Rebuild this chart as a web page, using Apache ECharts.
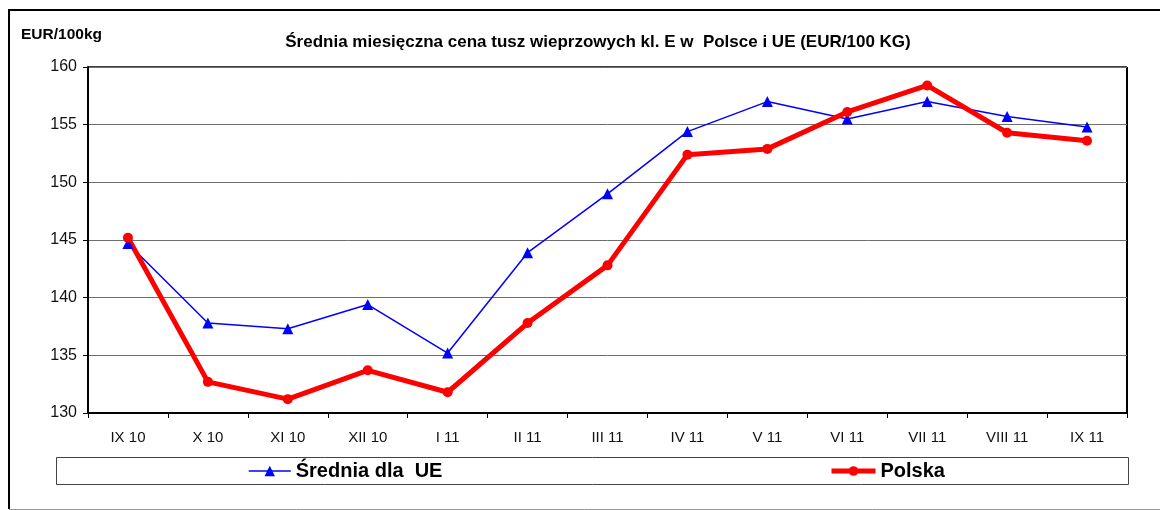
<!DOCTYPE html>
<html>
<head>
<meta charset="utf-8">
<script src="https://cdn.jsdelivr.net/npm/echarts@6/dist/echarts.min.js"></script>
<style>
  html, body { margin: 0; padding: 0; background: #fff; }
  #main { width: 1160px; height: 510px; }
</style>
</head>
<body>
<div id="main"></div>
<script>
// miesiące IX 2010 - IX 2011
const months = ['IX 10', 'X 10', 'XI 10', 'XII 10', 'I 11', 'II 11', 'III 11', 'IV 11', 'V 11', 'VI 11', 'VII 11', 'VIII 11', 'IX 11'];
const sredniaUE = [144.7, 137.8, 137.3, 139.4, 135.2, 143.9, 149.0, 154.4, 157.0, 155.5, 157.0, 155.7, 154.8];
const polska = [145.2, 132.7, 131.2, 133.7, 131.8, 137.8, 142.8, 152.4, 152.9, 156.1, 158.4, 154.3, 153.6];

const font = "'Liberation Sans', Arial, sans-serif";

const chart = echarts.init(document.getElementById('main'), null, { renderer: 'canvas' });

const option = {
  backgroundColor: '#fff',
  animation: false,
  title: {
    text: 'Średnia miesięczna cena tusz wieprzowych kl. E w  Polsce i UE (EUR/100 KG)',
    left: 598,
    textAlign: 'center',
    top: 34,
    padding: 0,
    textStyle: { fontFamily: font, fontSize: 17, fontWeight: 'bold', color: '#000' }
  },
  legend: [
    {
      data: ['Średnia dla  UE'],
      left: 248,
      top: 461,
      padding: 0,
      itemWidth: 42,
      itemHeight: 13,
      lineStyle: { width: 1.5 },
      textStyle: { fontFamily: font, fontSize: 20, fontWeight: 'bold', color: '#000' }
    },
    {
      data: ['Polska'],
      left: 829,
      top: 461,
      padding: 0,
      itemWidth: 44,
      itemHeight: 12,
      lineStyle: { width: 5 },
      textStyle: { fontFamily: font, fontSize: 20, fontWeight: 'bold', color: '#000' }
    }
  ],
  grid: { left: 88, right: 33, top: 67, bottom: 97 },
  xAxis: {
    type: 'category',
    data: months,
    boundaryGap: true,
    axisLine: { lineStyle: { color: '#000', width: 2 } },
    axisTick: { show: true, length: 5, lineStyle: { color: '#000' } },
    axisLabel: { fontFamily: font, fontSize: 15, color: '#111', margin: 17 }
  },
  yAxis: {
    type: 'value',
    name: 'EUR/100kg',
    nameLocation: 'end',
    nameGap: 24,
    nameTextStyle: { fontFamily: font, fontSize: 15.5, fontWeight: 'bold', color: '#000', align: 'left', padding: [0, 0, 0, -67] },
    min: 130,
    max: 160,
    interval: 5,
    axisLine: { show: true, lineStyle: { color: '#000', width: 2 } },
    axisTick: { show: true, length: 5, lineStyle: { color: '#000' } },
    axisLabel: { fontFamily: font, fontSize: 16, color: '#111', margin: 11 },
    splitLine: { show: true, lineStyle: { color: '#6e6e6e', width: 1 } }
  },
  series: [
    {
      name: 'Średnia dla  UE',
      type: 'line',
      data: sredniaUE,
      symbol: 'triangle',
      symbolSize: 11,
      color: '#0000ff',
      lineStyle: { color: '#0000ff', width: 1.5 },
      itemStyle: { color: '#0000ff' }
    },
    {
      name: 'Polska',
      type: 'line',
      data: polska,
      symbol: 'circle',
      symbolSize: 10,
      color: '#ff0000',
      lineStyle: { color: '#ff0000', width: 5 },
      itemStyle: { color: '#ff0000' }
    }
  ],
  graphic: [
    // ramka wykresu
    { type: 'line', shape: { x1: 9, y1: 10, x2: 1160, y2: 10 }, style: { stroke: '#000', lineWidth: 2 } },
    { type: 'line', shape: { x1: 9, y1: 9, x2: 9, y2: 509 }, style: { stroke: '#000', lineWidth: 2 } },
    { type: 'line', shape: { x1: 9, y1: 509.5, x2: 1160, y2: 509.5 }, style: { stroke: '#999', lineWidth: 1 } },
    // ramka legendy
    { type: 'rect', shape: { x: 56.5, y: 457.5, width: 1072, height: 27 }, style: { fill: 'none', stroke: '#444', lineWidth: 1 }, z: -1 },
    // prawa i górna krawędź obszaru wykresu
    { type: 'line', shape: { x1: 1127, y1: 67, x2: 1127, y2: 413 }, style: { stroke: '#000', lineWidth: 2 } },
    { type: 'line', shape: { x1: 88, y1: 67, x2: 1127, y2: 67 }, style: { stroke: '#000', lineWidth: 1.5 } }
  ]
};

chart.setOption(option);
</script>
</body>
</html>
